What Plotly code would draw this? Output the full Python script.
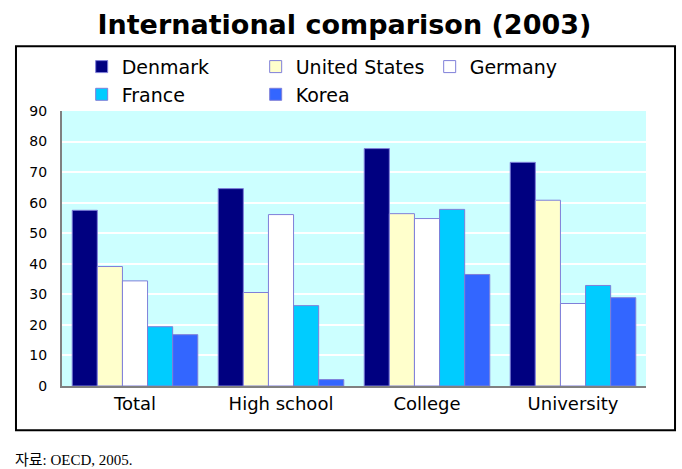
import plotly.graph_objects as go

categories = ["Total", "High school", "College", "University"]
series_names = ["Denmark", "United States", "Germany", "France", "Korea"]
denmark = [57.5, 64.6, 77.7, 73.2]
united_states = [39.1, 30.6, 56.4, 60.8]
germany = [34.4, 56.1, 54.8, 27.0]
france = [19.4, 26.3, 57.8, 32.9]
korea = [16.8, 2.1, 36.5, 28.9]
y_ticks = [0, 10, 20, 30, 40, 50, 60, 70, 80, 90]

series_values = [denmark, united_states, germany, france, korea]
colors = ["#000080", "#FFFFCC", "#FFFFFF", "#00CCFF", "#3366FF"]

FONT = "DejaVu Sans, Liberation Sans, Arial, sans-serif"

fig = go.Figure()
for name, vals, col in zip(series_names, series_values, colors):
    fig.add_trace(go.Bar(
        x=categories, y=vals, name=name,
        marker=dict(color=col, line=dict(color="#7F7FD9", width=1)),
    ))

fig.update_layout(
    width=682, height=469,
    margin=dict(l=62, r=36, t=111, b=83),
    paper_bgcolor="white",
    plot_bgcolor="#CCFFFF",
    barmode="group", bargap=0.14, bargroupgap=0,
    title=dict(text="<b>International comparison (2003)</b>",
               x=0.505, xref="container", xanchor="center",
               y=1 - 25 / 469, yref="container", yanchor="middle",
               font=dict(family=FONT, size=27, color="black")),
    legend=dict(orientation="h", x=0.0337, xanchor="left", y=1.23, yanchor="top",
                entrywidth=129, entrywidthmode="pixels",
                font=dict(family=FONT, size=19, color="black"),
                bgcolor="rgba(0,0,0,0)", traceorder="normal"),
    xaxis=dict(showline=True, linecolor="#808080", linewidth=2,
               ticks="", tickfont=dict(family=FONT, size=18, color="black"),
               showgrid=False),
    yaxis=dict(range=[0, 90], tickvals=y_ticks, showline=True, linecolor="#808080",
               linewidth=2, ticks="", ticklabelstandoff=10,
               tickfont=dict(family=FONT, size=14, color="black"),
               showgrid=True, gridcolor="white", gridwidth=2, zeroline=False),
    showlegend=True,
)

# outer frame
fig.add_shape(type="rect", xref="paper", yref="paper",
              x0=-0.0788, x1=1.0497, y0=-0.161, y1=1.2353,
              line=dict(color="black", width=2), fillcolor="rgba(0,0,0,0)", layer="below")

fig.add_annotation(text="자료: OECD, 2005.", xref="paper", yref="paper",
                   x=-0.0839, y=-0.270, xanchor="left", yanchor="middle", showarrow=False,
                   font=dict(family="Liberation Serif, Noto Sans CJK KR, serif", size=15, color="black"))

fig.write_html("out.html", config={"displayModeBar": False},
               post_script="document.body.style.margin='0';document.body.style.overflow='hidden';")
